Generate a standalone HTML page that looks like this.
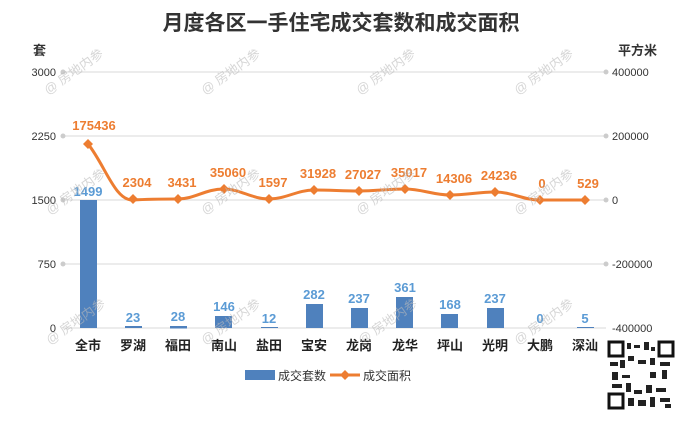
<!DOCTYPE html>
<html><head><meta charset="utf-8"><style>
body{margin:0;background:#fff;}
svg text{font-family:"Liberation Sans","Noto Sans CJK SC",sans-serif;}
</style></head><body>
<svg width="683" height="423" viewBox="0 0 683 423" xmlns="http://www.w3.org/2000/svg">
<rect width="683" height="423" fill="#fff"/>
<text x="341" y="30" text-anchor="middle" font-size="21" font-weight="bold" fill="#333">月度各区一手住宅成交套数和成交面积</text>
<text x="33" y="55" font-size="13" font-weight="bold" fill="#333">套</text>
<text x="618" y="55" font-size="13" font-weight="bold" fill="#333">平方米</text>
<g stroke="#d9d9d9" stroke-width="1">
<line x1="63" y1="72" x2="606" y2="72"/><line x1="63" y1="136" x2="606" y2="136"/>
<line x1="63" y1="200" x2="606" y2="200"/><line x1="63" y1="264" x2="606" y2="264"/>
<line x1="63" y1="328" x2="606" y2="328"/>
</g>
<g fill="#ccc">
<circle cx="63" cy="72" r="2.5"/><circle cx="63" cy="136" r="2.5"/><circle cx="63" cy="200" r="2.5"/><circle cx="63" cy="264" r="2.5"/>
<circle cx="606" cy="72" r="2.5"/><circle cx="606" cy="136" r="2.5"/><circle cx="606" cy="200" r="2.5"/><circle cx="606" cy="264" r="2.5"/>
</g>
<g font-size="11" fill="#333">
<text x="56" y="76" text-anchor="end">3000</text><text x="56" y="140" text-anchor="end">2250</text>
<text x="56" y="204" text-anchor="end">1500</text><text x="56" y="268" text-anchor="end">750</text>
<text x="56" y="332" text-anchor="end">0</text>
<text x="612" y="76">400000</text><text x="612" y="140">200000</text><text x="612" y="204">0</text>
<text x="612" y="268">-200000</text><text x="612" y="332">-400000</text>
</g>
<g fill="#4f81bd">
<rect x="80" y="200" width="17" height="128"/>
<rect x="125" y="326" width="17" height="2"/>
<rect x="170" y="326" width="17" height="2.5"/>
<rect x="215" y="316" width="17" height="12"/>
<rect x="261" y="327" width="17" height="1"/>
<rect x="306" y="304" width="17" height="24"/>
<rect x="351" y="308" width="17" height="20"/>
<rect x="396" y="297" width="17" height="31"/>
<rect x="441" y="314" width="17" height="14"/>
<rect x="487" y="308" width="17" height="20"/>
<rect x="577" y="327" width="17" height="1"/>
</g>
<g font-size="13" font-weight="bold" fill="#5b9bd5" text-anchor="middle">
<text x="88" y="196">1499</text><text x="133" y="322">23</text><text x="178" y="321">28</text>
<text x="224" y="311">146</text><text x="269" y="323">12</text><text x="314" y="299">282</text>
<text x="359" y="303">237</text><text x="405" y="292">361</text><text x="450" y="309">168</text>
<text x="495" y="303">237</text><text x="540" y="323">0</text><text x="585" y="323">5</text>
</g>
<path d="M88,144 C105,165 115,201 133,200 C150,199 160,199 178,199 C195,199 205,189 224,189 C240,189 252,199 269,199 C286,199 297,190 314,190 C331,190 342,191 359,191 C376,191 388,189 405,189 C422,189 433,195 450,195 C467,195 478,192 495,192 C512,192 523,200 540,200 C557,200 568,200 585,200" fill="none" stroke="#ed7d31" stroke-width="3"/>
<g fill="#ed7d31">
<path d="M88,139l5,5l-5,5l-5,-5z"/><path d="M133,194l5,5l-5,5l-5,-5z"/><path d="M178,194l5,5l-5,5l-5,-5z"/>
<path d="M224,184l5,5l-5,5l-5,-5z"/><path d="M269,194l5,5l-5,5l-5,-5z"/><path d="M314,185l5,5l-5,5l-5,-5z"/>
<path d="M359,186l5,5l-5,5l-5,-5z"/><path d="M405,184l5,5l-5,5l-5,-5z"/><path d="M450,190l5,5l-5,5l-5,-5z"/>
<path d="M495,187l5,5l-5,5l-5,-5z"/><path d="M540,195l5,5l-5,5l-5,-5z"/><path d="M585,195l5,5l-5,5l-5,-5z"/>
</g>
<g font-size="13" font-weight="bold" fill="#ed7d31" text-anchor="middle">
<text x="94" y="130">175436</text><text x="137" y="187">2304</text><text x="182" y="187">3431</text>
<text x="228" y="177">35060</text><text x="273" y="187">1597</text><text x="318" y="178">31928</text>
<text x="363" y="179">27027</text><text x="409" y="177">35017</text><text x="454" y="183">14306</text>
<text x="499" y="180">24236</text><text x="542" y="188">0</text><text x="588" y="188">529</text>
</g>
<g font-size="13" font-weight="bold" fill="#222" text-anchor="middle">
<text x="88" y="350">全市</text><text x="133" y="350">罗湖</text><text x="178" y="350">福田</text>
<text x="224" y="350">南山</text><text x="269" y="350">盐田</text><text x="314" y="350">宝安</text>
<text x="359" y="350">龙岗</text><text x="405" y="350">龙华</text><text x="450" y="350">坪山</text>
<text x="495" y="350">光明</text><text x="540" y="350">大鹏</text><text x="585" y="350">深汕</text>
</g>
<rect x="245" y="370" width="30" height="10" fill="#4f81bd"/>
<text x="278" y="380" font-size="12" fill="#333">成交套数</text>
<line x1="330" y1="375" x2="360" y2="375" stroke="#ed7d31" stroke-width="3"/>
<path d="M345,370l5,5l-5,5l-5,-5z" fill="#ed7d31"/>
<text x="363" y="380" font-size="12" fill="#333">成交面积</text>
<g>
<rect x="608" y="341" width="67" height="69" fill="#fff"/>
<rect x="609" y="342" width="14" height="14" fill="none" stroke="#111" stroke-width="3"/>
<rect x="659" y="342" width="14" height="14" fill="none" stroke="#111" stroke-width="3"/>
<rect x="609" y="394" width="14" height="14" fill="none" stroke="#111" stroke-width="3"/>
<g fill="#222">
<rect x="627" y="343" width="4" height="6"/><rect x="634" y="345" width="6" height="3"/><rect x="644" y="342" width="5" height="8"/><rect x="651" y="347" width="4" height="4"/>
<rect x="610" y="362" width="8" height="4"/><rect x="620" y="360" width="5" height="8"/><rect x="628" y="356" width="6" height="5"/><rect x="638" y="360" width="8" height="4"/>
<rect x="650" y="358" width="5" height="7"/><rect x="660" y="362" width="10" height="4"/><rect x="612" y="372" width="6" height="8"/><rect x="622" y="375" width="8" height="3"/>
<rect x="650" y="372" width="6" height="6"/><rect x="662" y="370" width="5" height="9"/><rect x="612" y="384" width="10" height="4"/><rect x="626" y="383" width="5" height="9"/>
<rect x="634" y="390" width="8" height="4"/><rect x="646" y="385" width="6" height="8"/><rect x="656" y="388" width="10" height="4"/><rect x="628" y="398" width="6" height="8"/>
<rect x="638" y="400" width="8" height="6"/><rect x="650" y="397" width="5" height="10"/><rect x="660" y="398" width="10" height="4"/><rect x="665" y="404" width="6" height="4"/>
</g>
</g>
<g font-size="13" fill="#bbb" opacity="0.6">
<text transform="translate(48,95) rotate(-35)">@ 房地内参</text>
<text transform="translate(205,95) rotate(-35)">@ 房地内参</text>
<text transform="translate(360,95) rotate(-35)">@ 房地内参</text>
<text transform="translate(518,95) rotate(-35)">@ 房地内参</text>
<text transform="translate(50,215) rotate(-35)">@ 房地内参</text>
<text transform="translate(205,215) rotate(-35)">@ 房地内参</text>
<text transform="translate(360,215) rotate(-35)">@ 房地内参</text>
<text transform="translate(518,215) rotate(-35)">@ 房地内参</text>
<text transform="translate(50,345) rotate(-35)">@ 房地内参</text>
<text transform="translate(205,345) rotate(-35)">@ 房地内参</text>
<text transform="translate(362,345) rotate(-35)">@ 房地内参</text>
<text transform="translate(518,345) rotate(-35)">@ 房地内参</text>
</g>
</svg>
</body></html>
